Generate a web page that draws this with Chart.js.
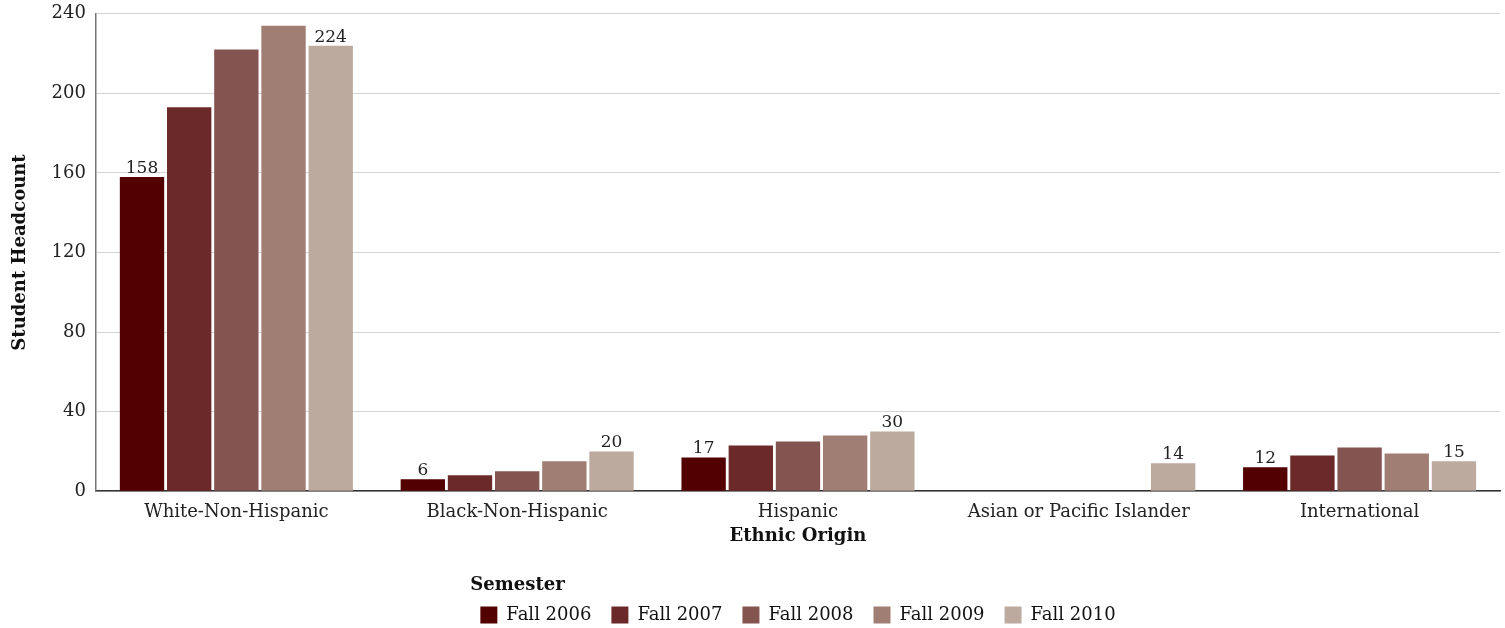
<!DOCTYPE html>
<html>
<head>
<meta charset="utf-8">
<script src="https://cdn.jsdelivr.net/npm/chart.js@4/dist/chart.umd.min.js"></script>
<style>
  body { margin: 0; background: #fff; }
</style>
</head>
<body>
<canvas id="chart" width="1505" height="628"></canvas>
<script>
const categories = [
  "White-Non-Hispanic",
  "Black-Non-Hispanic",
  "Hispanic",
  "Asian or Pacific Islander",
  "International",
];
const semesters = ["Fall 2006", "Fall 2007", "Fall 2008", "Fall 2009", "Fall 2010"];
const fall2006 = [158, 6, 17, 0, 12];
const fall2007 = [193, 8, 23, 0, 18];
const fall2008 = [222, 10, 25, 0, 22];
const fall2009 = [234, 15, 28, 0, 19];
const fall2010 = [224, 20, 30, 14, 15];
const yTicks = [0, 40, 80, 120, 160, 200, 240];

const seriesColours = ["#530000", "#6b2929", "#845450", "#a07e74", "#bcaa9f"];
const serif = "'DejaVu Serif', serif";

// only the first and last series carry value labels
const labelledSeries = [0, 4];

const valueLabels = {
  id: "valueLabels",
  afterDatasetsDraw(chart) {
    const ctx = chart.ctx;
    ctx.save();
    ctx.font = "17px " + serif;
    ctx.fillStyle = "#222";
    ctx.textAlign = "center";
    ctx.textBaseline = "bottom";
    labelledSeries.forEach((di) => {
      const meta = chart.getDatasetMeta(di);
      meta.data.forEach((bar, i) => {
        const v = chart.data.datasets[di].data[i];
        if (!v) return;
        ctx.fillText(v, bar.x, bar.y);
      });
    });
    ctx.restore();
  },
};

const allSeries = [fall2006, fall2007, fall2008, fall2009, fall2010];

new Chart(document.getElementById("chart"), {
  type: "bar",
  data: {
    labels: categories,
    datasets: allSeries.map((values, i) => ({
      label: semesters[i],
      data: values,
      backgroundColor: seriesColours[i],
      categoryPercentage: 0.84,
      barPercentage: 0.94,
    })),
  },
  options: {
    responsive: false,
    animation: false,
    layout: {
      padding: { top: 1, right: 5, left: 6, bottom: -6 },
    },
    plugins: {
      tooltip: { enabled: false },
      legend: {
        position: "bottom",
        fullSize: false,
        labels: {
          boxWidth: 17,
          boxHeight: 17,
          padding: 20,
          color: "#111",
          font: { family: serif, size: 18 },
        },
        title: {
          display: true,
          text: "Semester",
          position: "start",
          color: "#111",
          padding: { top: 25, bottom: -12 },
          font: { family: serif, size: 18, weight: "bold" },
        },
      },
    },
    scales: {
      x: {
        grid: { display: false },
        border: { color: "#333", width: 1.5 },
        ticks: { color: "#222", font: { family: serif, size: 18 }, padding: 2 },
        title: {
          display: true,
          text: "Ethnic Origin",
          color: "#111",
          padding: { top: 1 },
          font: { family: serif, size: 18, weight: "bold" },
        },
      },
      y: {
        min: 0,
        max: 240,
        afterBuildTicks(axis) {
          axis.ticks = yTicks.map((v) => ({ value: v }));
        },
        grid: { color: "#d4d4d4", tickLength: 7, tickColor: "rgba(0,0,0,0)" },
        border: { color: "#777", width: 1.5 },
        ticks: { color: "#222", font: { family: serif, size: 18 }, padding: 3 },
        title: {
          display: true,
          text: "Student Headcount",
          color: "#111",
          padding: { bottom: 17 },
          font: { family: serif, size: 18, weight: "bold" },
        },
      },
    },
  },
  plugins: [valueLabels],
});
</script>
</body>
</html>
